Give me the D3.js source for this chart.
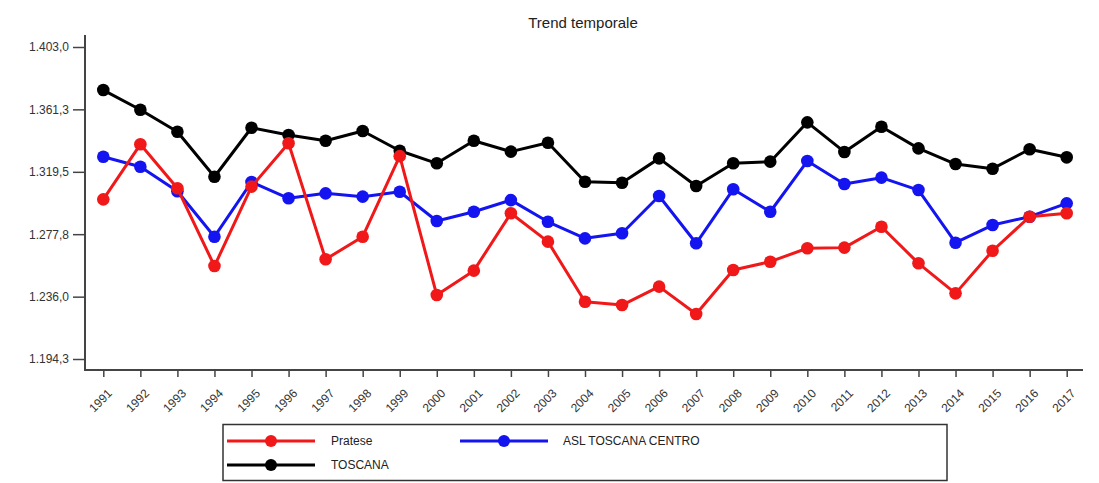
<!DOCTYPE html>
<html><head><meta charset="utf-8">
<script src="https://cdn.jsdelivr.net/npm/d3@7"></script>
<style>body{margin:0;background:#fff;font-family:"Liberation Sans",Arial,sans-serif;}</style>
</head><body><svg id="c" width="1099" height="483"></svg>
<script>
const years = d3.range(1991, 2018);
const pratese = [1301.1,1337.9,1308.5,1256.5,1309.6,1338.6,1261.0,1276.1,1330.0,1237.1,1253.4,1291.8,1272.8,1232.6,1230.4,1242.7,1224.4,1253.8,1259.4,1268.4,1268.8,1282.8,1258.3,1238.2,1266.7,1289.5,1291.8];
const aslCentro = [1329.6,1322.9,1306.5,1276.1,1312.7,1301.8,1305.1,1302.9,1306.2,1286.6,1292.8,1300.6,1286.1,1275.0,1278.4,1303.3,1271.7,1307.8,1292.8,1326.7,1311.4,1315.6,1307.3,1272.1,1283.9,1289.5,1298.4];
const toscana = [1374.2,1361.0,1346.3,1316.2,1349.0,1344.1,1340.3,1346.8,1333.6,1325.2,1340.3,1333.0,1339.0,1312.9,1312.2,1328.5,1310.0,1325.2,1326.3,1352.6,1332.8,1349.7,1335.2,1324.7,1321.6,1334.6,1329.2];
const yTicks = [1194.3,1236.0,1277.8,1319.5,1361.3,1403.0];
const seriesNames = ["Pratese","ASL TOSCANA CENTRO","TOSCANA"];
const seriesColors = ["#f01818","#1414f0","#000000"];
const title = "Trend temporale";

const series = [pratese, aslCentro, toscana].map((v,i)=>({name:seriesNames[i],color:seriesColors[i],values:v}));

const svg = d3.select("#c");
const x = d3.scaleLinear().domain([1991,2017]).range([103.3,1066.7]);
const y = d3.scaleLinear().domain([1194.3,1403.0]).range([359,47]);
const loc = d3.formatLocale({decimal:",",thousands:".",grouping:[3],currency:["","€"]});
const fmt = loc.format(",.1f");

svg.append("text").attr("x",583).attr("y",28).attr("text-anchor","middle")
  .attr("font-size",15).attr("fill","#222").text(title);

// y axis
const ya = svg.append("g").attr("transform","translate(85,0)")
  .call(d3.axisLeft(y).tickValues(yTicks).tickFormat(fmt).tickSize(12).tickSizeOuter(0).tickPadding(4));
ya.select(".domain").remove();
ya.selectAll(".tick line").attr("stroke","#444").attr("stroke-width",1.5);
ya.selectAll(".tick text").attr("font-size",12).attr("fill","#333").attr("font-family","Liberation Sans, Arial, sans-serif");
svg.append("line").attr("x1",85).attr("x2",85).attr("y1",35).attr("y2",371).attr("stroke","#444").attr("stroke-width",2);

// x axis
const xa = svg.append("g").attr("transform","translate(0,370)")
  .call(d3.axisBottom(x).tickValues(years).tickFormat(d=>String(d)).tickSize(7).tickSizeOuter(0).tickPadding(3));
xa.select(".domain").remove();
xa.selectAll(".tick line").attr("stroke","#444").attr("stroke-width",1.5);
xa.selectAll(".tick text").attr("font-size",12).attr("fill","#333").attr("font-family","Liberation Sans, Arial, sans-serif")
  .attr("text-anchor","end").attr("dy","0.35em").attr("transform","translate(-1,14) rotate(-45)");
svg.append("line").attr("x1",84).attr("x2",1083).attr("y1",370).attr("y2",370).attr("stroke","#444").attr("stroke-width",2);

// series
const line = d3.line().x((d,i)=>x(years[i])).y(d=>y(d));
const g = svg.append("g");
series.slice().reverse().forEach(s=>{
  g.append("path").attr("d",line(s.values)).attr("fill","none").attr("stroke",s.color).attr("stroke-width",3).attr("stroke-linejoin","round");
  g.selectAll(null).data(s.values).join("circle").attr("cx",(d,i)=>x(years[i])).attr("cy",d=>y(d)).attr("r",6.3).attr("fill",s.color);
});

// legend
const lg = svg.append("g");
lg.append("rect").attr("x",223).attr("y",424.5).attr("width",724).attr("height",56).attr("fill","#fff").attr("stroke","#333").attr("stroke-width",1.5);
const legPos = [{x:227,y:441,tx:331},{x:460,y:441,tx:563},{x:227,y:465,tx:331}];
series.forEach((s,i)=>{
  const p = legPos[i];
  lg.append("line").attr("x1",p.x).attr("x2",p.x+88).attr("y1",p.y).attr("y2",p.y).attr("stroke",s.color).attr("stroke-width",3);
  lg.append("circle").attr("cx",p.x+44).attr("cy",p.y).attr("r",6).attr("fill",s.color);
  lg.append("text").attr("x",p.tx).attr("y",p.y).attr("dy","0.35em").attr("font-size",12).attr("fill","#222").text(s.name);
});
</script></body></html>
